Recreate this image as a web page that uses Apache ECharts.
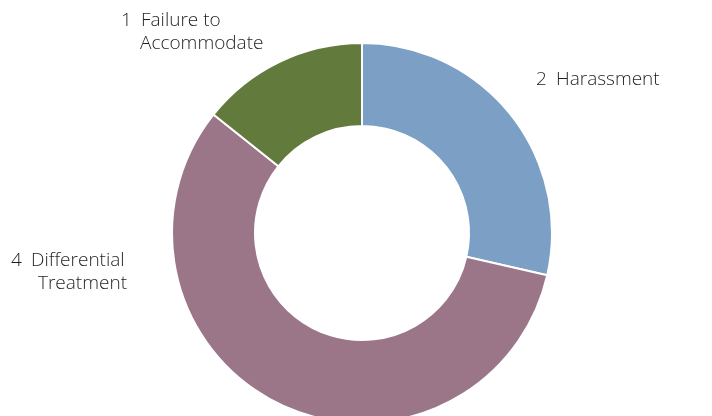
<!DOCTYPE html>
<html>
<head>
<meta charset="utf-8">
<script src="https://cdn.jsdelivr.net/npm/echarts@6/dist/echarts.min.js"></script>
<style>
  html, body { margin: 0; padding: 0; background: #fff; }
  #chart { width: 712px; height: 416px; }
</style>
</head>
<body>
<div id="chart"></div>
<script>
// Complaint counts by type
const categories = ['Harassment', 'Differential Treatment', 'Failure to Accommodate'];
const counts = [2, 4, 1];
// How each category name wraps in its label
const labelLines = [['Harassment'], ['Differential', 'Treatment'], ['Failure to', 'Accommodate']];

const colors = ['#7b9fc5', '#9b7689', '#637a3d'];
// Label anchor (top-left) for each slice, plus indent of the wrapped line
const labelPos = [
  { x: 536, y: 68, indent: 20 },
  { x: 11, y: 249, indent: 27 },
  { x: 121, y: 9, indent: 19 }
];

const chart = echarts.init(document.getElementById('chart'), null, { renderer: 'canvas' });

const data = categories.map((name, i) => ({
  name: name,
  value: counts[i],
  itemStyle: { color: colors[i] },
  label: {
    formatter: () => {
      const lines = labelLines[i];
      let s = '{num|' + counts[i] + '}{txt|' + lines[0] + '}';
      for (let k = 1; k < lines.length; k++) {
        s += '\n{pad' + i + '|}{txt|' + lines[k] + '}';
      }
      return s;
    }
  }
}));

const rich = {
  num: { fontSize: 19, fontFamily: 'Open Sans', fontWeight: 300, color: '#231f20', width: 20, lineHeight: 23 },
  txt: { fontSize: 19, fontFamily: 'Open Sans', fontWeight: 300, color: '#231f20', lineHeight: 23 }
};
labelPos.forEach((p, i) => { rich['pad' + i] = { width: p.indent, lineHeight: 23 }; });

chart.setOption({
  animation: false,
  backgroundColor: '#ffffff',
  series: [{
    type: 'pie',
    center: [362, 233],
    radius: [107, 190],
    startAngle: 90,
    clockwise: true,
    avoidLabelOverlap: false,
    itemStyle: { borderColor: '#ffffff', borderWidth: 2 },
    label: {
      show: true,
      position: 'outside',
      align: 'left',
      rich: rich
    },
    labelLine: { show: false },
    labelLayout: (params) => {
      const p = labelPos[params.dataIndex];
      return { x: p.x, y: p.y, align: 'left', verticalAlign: 'top' };
    },
    data: data
  }]
});
</script>
</body>
</html>
